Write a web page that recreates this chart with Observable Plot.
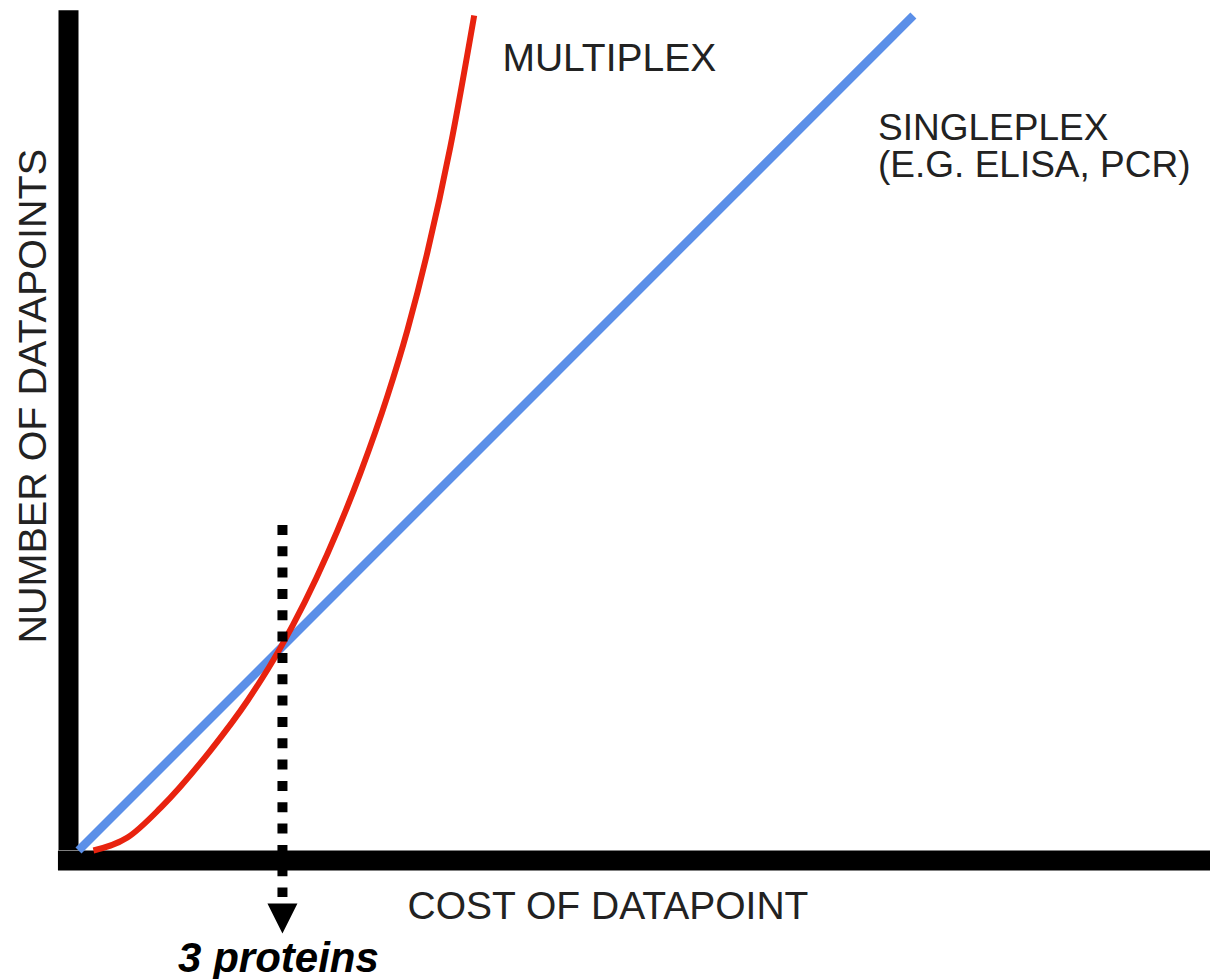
<!DOCTYPE html>
<html>
<head>
<meta charset="utf-8">
<script src="https://cdn.jsdelivr.net/npm/d3@7"></script>
<script src="https://cdn.jsdelivr.net/npm/@observablehq/plot@0.6"></script>
<style>
  html, body { margin: 0; padding: 0; background: #fff; }
  svg { display: block; }
</style>
</head>
<body>
<script>
// ---- data (units: x = cost, y = number of datapoints) ----
const singleplexCost  = [0, 12.28];
const singleplexCount = [0, 12.28];

const multiplexCost  = [0.22, 0.72, 1.21, 1.94, 2.49, 2.97, 3.66, 4.15, 4.54, 4.84, 5.13, 5.47, 5.82];
const multiplexCount = [0.00, 0.19, 0.63, 1.47, 2.21, 2.98, 4.36, 5.56, 6.67, 7.66, 8.79, 10.35, 12.28];

const breakEven = [3];                 // crossing point marker ("3 proteins")
const breakEvenLabel = ["3 proteins"];

const xTitle = "COST OF DATAPOINT";
const yTitle = "NUMBER OF DATAPOINTS";
const multiplexName = "MULTIPLEX";
const singleplexName = "SINGLEPLEX\n(E.G. ELISA, PCR)";

// ---- tables built from the arrays ----
const singleplex = singleplexCost.map((x, i) => ({x, y: singleplexCount[i]}));
const multiplex  = multiplexCost.map((x, i) => ({x, y: multiplexCount[i]}));

const font = "'Liberation Sans', Arial, Helvetica, sans-serif";
const textColor = "#222";

const downTriangle = {
  draw(ctx) {
    ctx.moveTo(-15, -15);
    ctx.lineTo(15, -15);
    ctx.lineTo(0, 15);
    ctx.closePath();
  }
};

const chart = Plot.plot({
  width: 1210,
  height: 979,
  marginLeft: 78,
  marginRight: 0,
  marginTop: 0,
  marginBottom: 129,
  style: {fontFamily: font, background: "#fff", overflow: "visible"},
  x: {domain: [0, 16.65], axis: null},
  y: {domain: [0, 12.5], axis: null},
  marks: [
    // thick black axes
    Plot.ruleY([0], {x1: -0.295, x2: 16.65, dy: 10, stroke: "#000", strokeWidth: 20}),
    Plot.ruleX([0], {y1: 12.35, y2: 0, dx: -10, stroke: "#000", strokeWidth: 20}),
    // series
    Plot.line(singleplex, {x: "x", y: "y", stroke: "#5b8fe8", strokeWidth: 8.5, strokeLinecap: "butt"}),
    Plot.line(multiplex, {x: "x", y: "y", stroke: "#e8230f", strokeWidth: 6, curve: "monotone-x", strokeLinecap: "butt"}),
    // dotted break-even line and arrowhead
    Plot.ruleX(breakEven, {x: d => d, y1: 4.78, y2: -0.69, stroke: "#000", strokeWidth: 10, strokeDasharray: "10,11.33", strokeLinecap: "butt"}),
    Plot.dot(breakEven, {x: d => d, y: -1.0, symbol: downTriangle, fill: "#000", stroke: "none", r: 10}),
    Plot.text(breakEvenLabel, {x: breakEven, y: -1.78, text: d => d, dx: -4, textAnchor: "middle", lineAnchor: "bottom",
      fontSize: 42, fontWeight: "bold", fontStyle: "italic", fill: "#000", fontFamily: font}),
    // axis titles
    Plot.text([xTitle], {x: 4.84, y: -1.0, text: d => d, textAnchor: "start", lineAnchor: "bottom",
      fontSize: 39, fill: textColor, fontFamily: font}),
    Plot.text([yTitle], {x: -0.485, y: 6.68, text: d => d, rotate: -90, textAnchor: "middle", lineAnchor: "bottom",
      fontSize: 39.5, fill: textColor, fontFamily: font}),
    // series labels
    Plot.text([multiplexName], {x: 6.235, y: 11.47, text: d => d, textAnchor: "start", lineAnchor: "bottom",
      fontSize: 39, fill: textColor, fontFamily: font}),
    Plot.text([singleplexName], {x: 11.76, y: 9.91, text: d => d, textAnchor: "start", lineAnchor: "bottom",
      lineHeight: 1.0, fontSize: 37, fill: textColor, fontFamily: font})
  ]
});

document.body.appendChild(chart);
</script>
</body>
</html>
